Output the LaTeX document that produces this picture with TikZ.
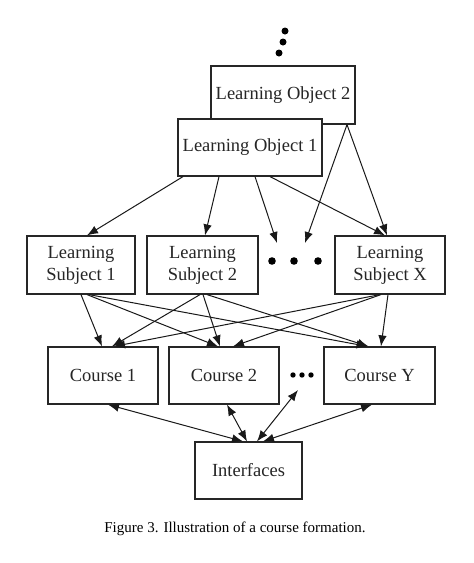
\documentclass[tikz,border=0pt]{standalone}
\usepackage{fontspec}
\setmainfont{Liberation Serif}
\usetikzlibrary{arrows.meta}
\begin{document}
\begin{tikzpicture}[x=1pt,y=-1pt,
  box/.style={draw=black!85,line width=1.2pt,fill=white,inner sep=0pt,align=center,
    font=\fontsize{18.5}{22}\selectfont,text=black!85},
  conn/.style={line width=1pt,draw=black!90,-{Latex[length=11pt,width=8.5pt]}},
  biconn/.style={line width=1pt,draw=black!90,{Latex[length=11pt,width=8.5pt]}-{Latex[length=11pt,width=8.5pt]}},
  blob/.style={fill=black}]
\useasboundingbox (0,0) rectangle (474,563);
% top dots
\fill[blob] (285,31) circle (3.5) (283,42) circle (3.5) (279,53) circle (3.5);
% Learning objects
\node[box,minimum width=144pt,minimum height=58pt] (LO2) at (283,95) {Learning Object 2};
\node[box,minimum width=144pt,minimum height=57pt] (LO1) at (250,147.5) {Learning Object 1};
% Learning subjects
\node[box,minimum width=108pt,minimum height=58pt] (LS1) at (81,265) {Learning\\Subject 1};
\node[box,minimum width=111pt,minimum height=58pt] (LS2) at (202.5,265) {Learning\\Subject 2};
\node[box,minimum width=110pt,minimum height=58pt] (LSX) at (390,265) {Learning\\Subject X};
\fill[blob] (272,261) circle (3.8) (294,261) circle (3.8) (318,261) circle (3.8);
\coordinate (dA) at (277,243);
\coordinate (dB) at (305,243);
% Courses
\node[box,minimum width=110pt,minimum height=57pt] (C1) at (103,375.5) {Course 1};
\node[box,minimum width=110pt,minimum height=57pt] (C2) at (224,375.5) {Course 2};
\node[box,minimum width=111pt,minimum height=57pt] (CY) at (379.5,375.5) {Course Y};
\fill[blob] (293,375) circle (2.7) (302,375) circle (2.7) (311,375) circle (2.7);
\coordinate (dC) at (298,390);
% Interfaces
\node[box,minimum width=107pt,minimum height=57pt] (IF) at (248.5,470.5) {Interfaces};
% caption
\node[font=\fontsize{15}{18}\selectfont,text=black] (cap) at (235,529) {Figure 3. Illustration of a course formation.};
% LO -> LS
\draw[conn] ([xshift=-67pt]LO1.south) -- ([xshift=6pt]LS1.north);
\draw[conn] ([xshift=-31pt]LO1.south) -- ([xshift=2.5pt]LS2.north);
\draw[conn] ([xshift=5pt]LO1.south) -- (dA);
\draw[conn] ([xshift=20pt]LO1.south) -- ([xshift=-5pt]LSX.north);
\draw[conn] ([xshift=64pt]LO2.south) -- (dB);
\draw[conn] ([xshift=64pt]LO2.south) -- ([xshift=-3pt]LSX.north);
% LS -> Courses
\draw[conn] ([xshift=0pt]LS1.south) -- ([xshift=-1pt]C1.north);
\draw[conn] ([xshift=6pt]LS1.south) -- ([xshift=-6pt]C2.north);
\draw[conn] ([xshift=8pt]LS1.south) -- ([xshift=-12pt]CY.north);
\draw[conn] ([xshift=-2.5pt]LS2.south) -- ([xshift=9pt]C1.north);
\draw[conn] ([xshift=0.5pt]LS2.south) -- ([xshift=-4pt]C2.north);
\draw[conn] ([xshift=4.5pt]LS2.south) -- ([xshift=-11pt]CY.north);
\draw[conn] ([xshift=-10pt]LSX.south) -- ([xshift=11pt]C1.north);
\draw[conn] ([xshift=-9pt]LSX.south) -- ([xshift=9pt]C2.north);
\draw[conn] ([xshift=-2pt]LSX.south) -- ([xshift=1.5pt]CY.north);
% Courses <-> Interfaces
\draw[biconn] ([xshift=5pt]C1.south) -- ([xshift=-5.5pt]IF.north);
\draw[biconn] ([xshift=3pt]C2.south) -- ([xshift=-1.5pt]IF.north);
\draw[biconn] ([xshift=8.5pt]IF.north) -- (dC);
\draw[biconn] ([xshift=-7.5pt]CY.south) -- ([xshift=14.5pt]IF.north);
\end{tikzpicture}
\end{document}
